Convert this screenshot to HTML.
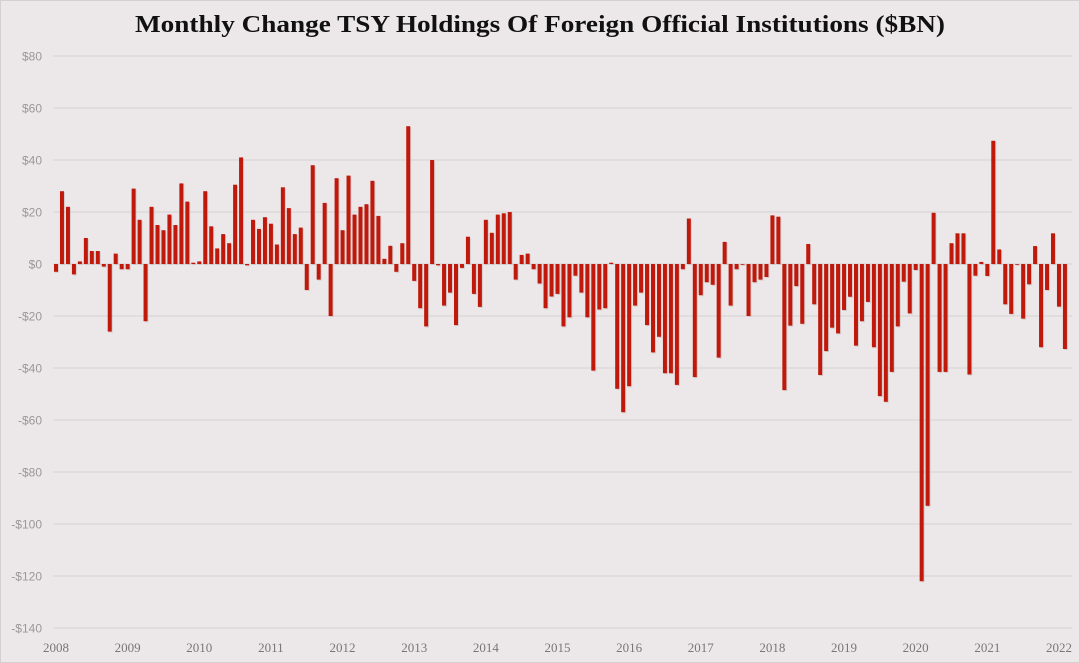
<!DOCTYPE html>
<html><head><meta charset="utf-8"><style>
html,body{margin:0;padding:0;background:#ece8e9;}
svg{display:block;}
</style></head><body>
<svg id="chart" width="1080" height="663" xmlns="http://www.w3.org/2000/svg">
<rect x="0.5" y="0.5" width="1079" height="662" fill="#ece8e9" stroke="#d4d0d1"/>
<text x="135" y="32" textLength="810" lengthAdjust="spacingAndGlyphs" font-family="Liberation Serif, serif" font-weight="bold" font-size="24" fill="#111">Monthly Change TSY Holdings Of Foreign Official Institutions ($BN)</text>
<g id="grid"></g><g id="bars"></g><g id="labels"></g>
</svg>
<script>
const yTicks=[80,60,40,20,0,-20,-40,-60,-80,-100,-120,-140];
const yearLabels=["2008","2009","2010","2011","2012","2013","2014","2015","2016","2017","2018","2019","2020","2021","2022"];
const v2008=[-3,28,22,-4,1,10,5,5,-1,-26,4,-2];
const v2009=[-2,29,17,-22,22,15,13,19,15,31,24,0.5];
const v2010=[1,28,14.5,6,11.5,8,30.5,41,-0.5,17,13.5,18];
const v2011=[15.5,7.5,29.5,21.5,11.5,14,-10,38,-6,23.5,-20,33];
const v2012=[13,34,19,22,23,32,18.5,2,7,-3,8,53];
const v2013=[-6.5,-17,-24,40,-0.5,-16,-11,-23.5,-1.5,10.5,-11.5,-16.5];
const v2014=[17,12,19,19.5,20,-6,3.5,4,-2,-7.5,-17,-12.5];
const v2015=[-11.5,-24,-20.5,-4.5,-11,-20.5,-41,-17.5,-17,0.5,-48,-57];
const v2016=[-47,-16,-11,-23.5,-34,-28,-42,-42,-46.5,-2,17.5,-43.5];
const v2017=[-12,-7,-8,-36,8.5,-16,-2,0,-20,-7,-6,-5];
const v2018=[18.7,18.2,-48.5,-23.7,-8.5,-23,7.7,-15.5,-42.7,-33.5,-24.5,-26.7];
const v2019=[-17.7,-12.6,-31.4,-22,-14.6,-32,-50.8,-53,-41.5,-24,-6.8,-19];
const v2020=[-2.3,-122,-93,19.7,-41.5,-41.5,8,11.8,11.8,-42.5,-4.5,0.8];
const v2021=[-4.6,47.4,5.6,-15.5,-19.2,0,-21,-7.8,6.9,-32,-10,11.8];
const v2022=[-16.4,-32.7];
const values=[].concat(v2008,v2009,v2010,v2011,v2012,v2013,v2014,v2015,v2016,v2017,v2018,v2019,v2020,v2021,v2022);

const NS="http://www.w3.org/2000/svg";
const y=v=>264-v*2.6;
const x=i=>56+i*5.97;
function mk(tag,attrs,parent){const e=document.createElementNS(NS,tag);for(const k in attrs)e.setAttribute(k,attrs[k]);parent.appendChild(e);return e;}
const grid=document.getElementById('grid'),bars=document.getElementById('bars'),labels=document.getElementById('labels');
yTicks.forEach(t=>{
  const l=mk('line',{x1:53,x2:1072,y1:y(t),y2:y(t),stroke:'#d6d1d2','stroke-width':1},grid);
  
  
  const tx=mk('text',{x:42,y:y(t)+4.5,'text-anchor':'end','font-family':'Liberation Sans, sans-serif','font-size':12,fill:'#999'},labels);
  tx.textContent=(t<0?'-$':'$')+Math.abs(t);
  
  
});
yearLabels.forEach((s,k)=>{
  const tx=mk('text',{x:x(k*12),y:652,'text-anchor':'middle','font-family':'Liberation Serif, serif','font-size':13,fill:'#777'},labels);
  tx.textContent=s;
  
  
});
values.forEach((v,i)=>{
  const top=Math.min(y(v),y(0)),h=Math.max(Math.abs(y(v)-y(0)),0.8);
  const sh=mk('rect',{x:x(i)-1,y:top+1,width:4,height:h,fill:'#b9b2b3',opacity:0.5},bars);
  
  
  const r=mk('rect',{x:x(i)-2,y:top,width:4,height:h,fill:'#c0190c'},bars);
  
  
});
</script>
</body></html>
